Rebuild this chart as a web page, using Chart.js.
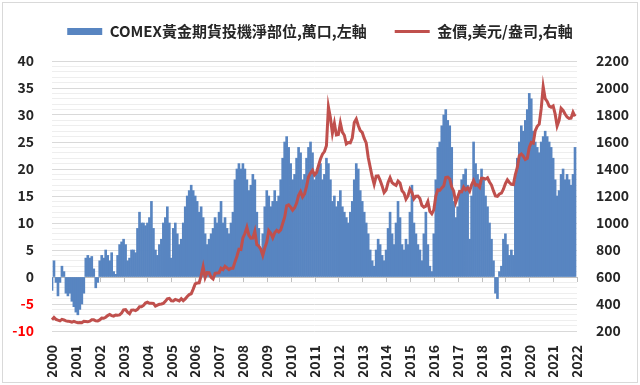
<!DOCTYPE html>
<html>
<head>
<meta charset="utf-8">
<script src="https://cdn.jsdelivr.net/npm/chart.js@4.4.1/dist/chart.umd.min.js"></script>
<style>
  body { margin: 0; background: #fff; }
</style>
</head>
<body>
<canvas id="chart" width="640" height="385"></canvas>
<script>
// tick labels on the bottom axis
var years = [2000, 2001, 2002, 2003, 2004, 2005, 2006, 2007, 2008, 2009, 2010,
             2011, 2012, 2013, 2014, 2015, 2016, 2017, 2018, 2019, 2020, 2021, 2022];

// COMEX net speculative position, 10k contracts (monthly)
var netPos = [
  -2.5, 3, -1, -3.5, -1, 2, 1, -3, -3.5, -3, -4.5, -5.5,      // 2000
  -6.5, -7, -6, -5, -3, 3.5, 4, 3.5, 3.8, 1.5, -2, -1,        // 2001
  3, 4, 3.5, 5, 4, 3, 4.5, 1, 0.5, 4, 6, 6.5,                 // 2002
  7, 6, 3, 3.5, 5, 5, 4.5, 9, 12, 10, 10, 9.5,                // 2003
  10, 11, 14, 9, 5, 4, 6, 7, 10, 11, 13, 10,                  // 2004
  3.5, 9, 10, 8, 6, 7, 10, 13, 15, 16, 17, 16,                // 2005
  15, 14, 12, 13, 11, 8, 6, 7, 8, 9, 11, 10,                  // 2006
  12, 14, 10, 11, 9, 8, 10, 12, 18, 20, 21, 20,               // 2007
  21, 20, 18, 16, 17, 19, 18, 12, 9, 5, 8, 13,                // 2008
  16, 15, 13, 14, 16, 14, 15, 18, 22, 25, 26, 24,             // 2009
  21, 18, 19, 22, 24, 23, 18, 19, 22, 24, 25, 23,             // 2010
  18, 19, 20, 21, 18, 19, 22, 21, 18, 14, 15, 13,             // 2011
  14, 16, 13, 12, 11, 10, 12, 14, 18, 21, 20, 16,             // 2012
  14, 12, 10, 8, 5, 3, 2, 5, 7, 6, 4, 3,                      // 2013
  5, 9, 12, 8, 6, 10, 14, 11, 6, 5, 7, 6,                     // 2014
  12, 17, 10, 8, 6, 5, 3, 8, 12, 6, 2, 1,                     // 2015
  8, 18, 24, 25, 28, 30, 31, 29, 28, 24, 14, 11,              // 2016
  13, 16, 18, 19, 20, 17, 7, 15, 25, 21, 19, 18,              // 2017
  20, 18, 15, 13, 10, 7, 3, -3, -4, 1, 2, 7,                  // 2018
  8, 6, 4, 5, 4, 18, 22, 25, 28, 27, 29, 31,                  // 2019
  34, 33, 27, 25, 24, 23, 25, 26, 27, 26, 25, 24,             // 2020
  22, 18, 15, 16, 19, 20, 18, 19, 18, 17, 19, 24              // 2021
];

// gold price, USD/oz (monthly)
var goldPrice = [
  284, 300, 286, 280, 275, 286, 282, 275, 273, 270, 266, 272,
  266, 262, 263, 261, 272, 270, 268, 273, 283, 283, 276, 275,
  282, 296, 294, 302, 314, 322, 314, 310, 319, 317, 319, 333,
  357, 359, 340, 328, 355, 356, 351, 360, 379, 379, 389, 407,
  414, 405, 406, 404, 384, 392, 398, 400, 405, 420, 439, 442,
  424, 423, 434, 429, 423, 440, 425, 438, 456, 470, 476, 510,
  549, 555, 557, 610, 676, 596, 633, 632, 598, 586, 627, 629,
  631, 665, 655, 679, 667, 655, 665, 665, 712, 754, 806, 803,
  889, 922, 968, 909, 888, 889, 939, 839, 829, 806, 760, 816,
  858, 943, 924, 890, 928, 946, 934, 949, 996, 1043, 1127, 1134,
  1118, 1095, 1113, 1148, 1205, 1232, 1193, 1215, 1271, 1343, 1370, 1391,
  1356, 1372, 1424, 1474, 1510, 1529, 1572, 1860, 1780, 1665, 1739, 1652,
  1656, 1742, 1673, 1650, 1585, 1596, 1594, 1630, 1744, 1770, 1722, 1685,
  1671, 1627, 1593, 1487, 1414, 1343, 1286, 1347, 1349, 1316, 1275, 1225,
  1244, 1300, 1336, 1299, 1287, 1279, 1311, 1296, 1239, 1222, 1176, 1200,
  1251, 1227, 1179, 1198, 1199, 1181, 1131, 1117, 1125, 1159, 1086, 1068,
  1097, 1200, 1246, 1242, 1260, 1276, 1337, 1340, 1326, 1266, 1236, 1152,
  1192, 1234, 1231, 1266, 1246, 1260, 1236, 1283, 1315, 1280, 1283, 1265,
  1331, 1331, 1325, 1335, 1304, 1281, 1238, 1201, 1198, 1215, 1221, 1250,
  1291, 1320, 1300, 1286, 1284, 1359, 1413, 1500, 1511, 1495, 1471, 1480,
  1560, 1597, 1591, 1683, 1716, 1732, 1847, 2010, 1921, 1900, 1866, 1858,
  1867, 1808, 1718, 1760, 1850, 1834, 1807, 1785, 1775, 1777, 1821, 1790
];

// one label per month, plus Jan 2022 so the last year tick sits at the right edge
var months = [];
for (var i = 0; i < years.length - 1; i++) {
  for (var m = 1; m <= 12; m++) months.push(years[i] + '-' + (m < 10 ? '0' + m : m));
}
months.push(years[years.length - 1] + '-01');

var FONT = "'Noto Sans CJK TC', 'Noto Sans', sans-serif";
Chart.defaults.font.family = FONT;
Chart.defaults.color = '#262626';

// small ticks on the zero line, outer frame, legend height tweak
var extras = {
  id: 'extras',
  afterInit: function (chart) {
    var lg = chart.legend;
    var fit = lg.fit;
    lg.fit = function () {
      fit.call(this);
      this.height += 12;
    };
  },
  beforeDatasetsDraw: function (chart) {
    var xs = chart.scales.x, c = chart.ctx;
    var y0 = Math.round(chart.scales.y.getPixelForValue(0));
    c.save();
    c.strokeStyle = '#bfbfbf';
    c.lineWidth = 1;
    c.beginPath();
    months.forEach(function (lab, i) {
      if (lab.slice(5) === '01') {
        var px = Math.round(xs.getPixelForValue(i)) + 0.5;
        c.moveTo(px, y0);
        c.lineTo(px, y0 + 5);
      }
    });
    c.stroke();
    c.restore();
  },
  afterDraw: function (chart) {
    var c = chart.ctx;
    c.save();
    c.strokeStyle = '#d9d9d9';
    c.lineWidth = 1;
    c.strokeRect(2.5, 2.5, 635, 380);
    c.restore();
  }
};

var ctx = document.getElementById('chart');
var myChart = new Chart(ctx, {
  type: 'bar',
  data: {
    labels: months,
    datasets: [
      {
        type: 'bar',
        label: 'COMEX黃金期貨投機淨部位,萬口,左軸',
        data: netPos,
        backgroundColor: '#5885c1',
        borderWidth: 0,
        barPercentage: 1,
        categoryPercentage: 1,
        yAxisID: 'y',
        order: 2,
        pointStyle: 'rect'
      },
      {
        type: 'line',
        label: '金價,美元/盎司,右軸',
        data: goldPrice,
        borderColor: '#c0504d',
        backgroundColor: '#c0504d',
        borderWidth: 3,
        pointRadius: 0,
        tension: 0,
        yAxisID: 'y1',
        order: 1,
        pointStyle: 'line'
      }
    ]
  },
  plugins: [extras],
  options: {
    responsive: false,
    animation: false,
    layout: { padding: { top: -4, left: 0, right: 0, bottom: 8 } },
    plugins: {
      tooltip: { enabled: false },
      legend: {
        position: 'top',
        labels: {
          usePointStyle: true,
          pointStyleWidth: 35,
          boxHeight: 7,
          padding: 28,
          color: '#262626',
          font: { size: 15, weight: 'bold' },
          sort: function (a, b) { return a.datasetIndex - b.datasetIndex; }
        }
      }
    },
    scales: {
      x: {
        offset: false,
        grid: { display: false },
        border: { display: false },
        ticks: {
          autoSkip: false,
          maxRotation: 90,
          minRotation: 90,
          padding: 6,
          font: { size: 14, weight: 'bold' },
          callback: function (v, i) {
            var lab = months[i];
            return lab.slice(5) === '01' ? lab.slice(0, 4) : '';
          }
        },
        afterFit: function (s) { s.height = 46; }
      },
      y: {
        position: 'left',
        min: -10,
        max: 40,
        border: { display: false },
        grid: {
          drawTicks: false,
          color: function (c) {
            var v = c.tick.value;
            if (v === 0) return '#bfbfbf';
            return v % 5 === 0 ? '#d9d9d9' : '#eeeeee';
          }
        },
        ticks: {
          stepSize: 1,
          autoSkip: false,
          padding: 18,
          font: { size: 14, weight: 'bold' },
          color: function (c) { return c.tick.value < 0 ? '#ff0000' : '#262626'; },
          callback: function (v) { return v % 5 === 0 ? v : ''; }
        },
        afterFit: function (s) { s.width = 52; }
      },
      y1: {
        position: 'right',
        min: 200,
        max: 2200,
        border: { display: false },
        grid: { display: false, drawTicks: false },
        ticks: {
          stepSize: 200,
          padding: 19,
          font: { size: 14, weight: 'bold' },
          callback: function (v) { return String(v); }
        },
        afterFit: function (s) { s.width = 63; }
      }
    }
  }
});
</script>
</body>
</html>
